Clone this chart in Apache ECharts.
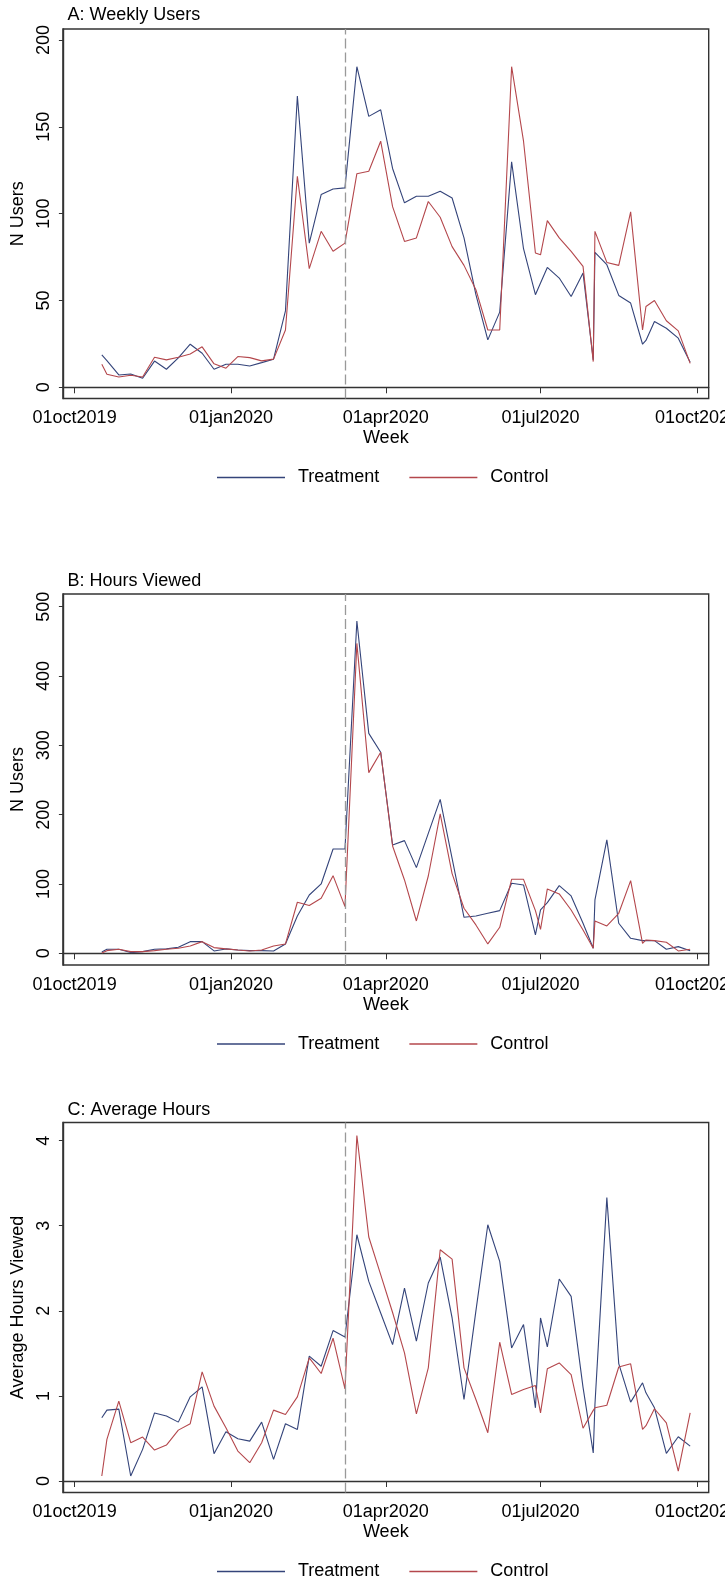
<!DOCTYPE html>
<html>
<head>
<meta charset="utf-8">
<title>Weekly Users / Hours Viewed / Average Hours</title>
<script src="https://cdn.jsdelivr.net/npm/echarts@6/dist/echarts.min.js"></script>
<style>
	html, body { margin: 0; padding: 0; background: #fff; }
	#main { width: 725px; height: 1585px; }
</style>
</head>
<body>
<div id="main"></div>
<script>
// week dates (Sundays, plus a few month-start points)
var weeks = ['2019-10-17', '2019-10-20', '2019-10-27', '2019-11-03', '2019-11-10', '2019-11-17', '2019-11-24',
	'2019-12-01', '2019-12-08', '2019-12-15', '2019-12-22', '2019-12-29', '2020-01-05', '2020-01-12',
	'2020-01-19', '2020-01-26', '2020-02-02', '2020-02-09', '2020-02-16', '2020-02-23', '2020-03-01',
	'2020-03-08', '2020-03-15', '2020-03-22', '2020-03-29', '2020-04-05', '2020-04-12', '2020-04-19',
	'2020-04-26', '2020-05-03', '2020-05-10', '2020-05-17', '2020-05-24', '2020-05-31', '2020-06-07',
	'2020-06-14', '2020-06-21', '2020-06-28', '2020-07-01', '2020-07-05', '2020-07-12', '2020-07-19',
	'2020-07-26', '2020-08-01', '2020-08-02', '2020-08-09', '2020-08-16', '2020-08-23', '2020-08-30',
	'2020-09-01', '2020-09-06', '2020-09-13', '2020-09-20', '2020-09-27'];

// A: weekly users
var usersT = [18.6, 15.4, 7.1, 7.7, 5.2, 15.1, 10.4, 17, 24.8, 19.6, 10.4, 13.3, 13.3, 12.3, 14.2, 16.2, 44,
	167.7, 83, 111, 114.2, 114.8, 184.6, 156, 159.8, 126, 106.2, 110, 110, 112.9, 109, 86, 53.3, 27.3, 43.3,
	129.8, 79.8, 53.3, 60, 69, 62.9, 52.3, 65.8, 15.8, 77.7, 70.6, 52.9, 48.5, 24.8, 27, 37.9, 34, 28.3, 14.4];
var usersC = [13.2, 7.5, 5.9, 6.9, 5.9, 17.3, 15.8, 17.3, 19.2, 23.3, 13.5, 11, 17.7, 17.1, 15.2, 16.2, 33,
	121.5, 68.3, 89.8, 78.3, 83, 123, 124.4, 141.7, 104, 84, 86, 107, 97.9, 81, 70.2, 56.2, 33, 33,
	184.6, 141.7, 77.3, 76.3, 96, 86, 78.3, 69.6, 14.8, 89.8, 71.9, 70.2, 101, 33, 46.5, 50, 38.3, 32.5, 13.8];

// B: hours viewed
var hoursT = [2, 5.8, 5.8, 1, 2.4, 5.8, 6.3, 8.7, 16.8, 16.8, 3.4, 6.3, 4.8, 3.8, 3.8, 3.4, 13.5,
	53.8, 84.1, 100, 150.5, 150.5, 479.3, 317.3, 290, 156.3, 162.5, 123.6, 173, 222, 137, 51.9, 53.8, 57.7, 61.5,
	101, 98.6, 26.4, 62.5, 73, 97.6, 82.7, 43.3, 7.2, 77, 163.5, 43.3, 21.6, 18.3, 18.3, 18.3, 5.8, 9.6, 3.8];
var hoursC = [0.5, 3.8, 5.8, 2.4, 2.4, 3.8, 5.8, 7.2, 10.6, 16.8, 8.2, 6.3, 4.8, 3.4, 4.8, 10.6, 13.5,
	73.6, 68.8, 79.3, 112, 67.3, 447, 260.6, 290, 154.8, 105.8, 46.6, 111.5, 201, 115, 65, 40.9, 13.5, 37.5,
	106.7, 106.7, 61.5, 34.6, 92.8, 85.6, 62.5, 33.7, 7.2, 46.6, 39.4, 57.7, 104.8, 14.4, 19.2, 18.3, 15.9, 3.4, 5.8];

// C: average hours
var avgT = [0.743, 0.833, 0.845, 0.059, 0.372, 0.8, 0.763, 0.692, 0.989, 1.107, 0.321, 0.579, 0.497, 0.469,
	0.692, 0.254, 0.673, 0.606, 1.467, 1.349, 1.768, 1.693, 2.894, 2.346, 1.975, 1.603, 2.268, 1.643, 2.327,
	2.632, 1.916, 0.958, 2.0, 3.011, 2.581, 1.564, 1.838, 0.86, 1.916, 1.576, 2.374, 2.17, 1.1, 0.33, 0.9,
	3.33, 1.38, 0.927, 1.154, 1.036, 0.86, 0.325, 0.52, 0.41];
var avgC = [0.059, 0.489, 0.939, 0.45, 0.516, 0.364, 0.422, 0.598, 0.673, 1.283, 0.88, 0.626, 0.352, 0.215,
	0.45, 0.833, 0.782, 0.989, 1.447, 1.263, 1.678, 1.083, 4.06, 2.867, 2.425, 1.98, 1.506, 0.79, 1.33,
	2.718, 2.608, 1.33, 0.958, 0.567, 1.631, 1.017, 1.075, 1.122, 0.8, 1.318, 1.388, 1.251, 0.62, 0.83, 0.86,
	0.89, 1.34, 1.377, 0.606, 0.65, 0.849, 0.684, 0.117, 0.8];

var xTickDates = ['2019-10-01', '2020-01-01', '2020-04-01', '2020-07-01', '2020-10-01'];
var yTicksA = [0, 50, 100, 150, 200];
var yTicksB = [0, 100, 200, 300, 400, 500];
var yTicksC = [0, 1, 2, 3, 4];
var policyDate = '2020-03-08';

var monthNames = ['jan', 'feb', 'mar', 'apr', 'may', 'jun', 'jul', 'aug', 'sep', 'oct', 'nov', 'dec'];
var DAY = 86400000;

function ts(s) {
	return new Date(s + 'T00:00:00Z').getTime();
}
function fmtDate(v) {
	var d = new Date(v);
	var dd = d.getUTCDate();
	return (dd < 10 ? '0' : '') + dd + monthNames[d.getUTCMonth()] + d.getUTCFullYear();
}
function pairs(vals) {
	return weeks.map(function(w, i) { return [ts(w), vals[i]]; });
}

var font = 'Liberation Sans, Arial, Helvetica, sans-serif';
var blue = '#34447a';
var red = '#b4474c';
var xTicks = xTickDates.map(ts);
var xMin = ts('2019-10-01') - 6.88 * DAY;
var xMax = ts('2019-10-01') + 372.9 * DAY;

var panels = [
	{ title: 'A: Weekly Users', yName: 'N Users', t: usersT, c: usersC, ticks: yTicksA, min: -6.45, max: 206.3, top: 29, height: 369.5, titleUp: 23 },
	{ title: 'B: Hours Viewed', yName: 'N Users', t: hoursT, c: hoursC, ticks: yTicksB, min: -16.9, max: 518.3, top: 594, height: 371, titleUp: 21.5 },
	{ title: 'C: Average Hours', yName: 'Average Hours Viewed', t: avgT, c: avgC, ticks: yTicksC, min: -0.135, max: 4.213, top: 1122.5, height: 370, titleUp: 21 }
];

var option = {
	backgroundColor: '#fff',
	animation: false,
	textStyle: { fontFamily: font },
	title: [], legend: [], grid: [], xAxis: [], yAxis: [], series: []
};

panels.forEach(function(p, i) {
	option.title.push({
		text: p.title, left: 67.5, top: p.top - p.titleUp, padding: 0,
		textStyle: { fontSize: 18, fontWeight: 'normal', color: '#000', fontFamily: font }
	});
	option.legend.push({
		data: ['Treatment', 'Control'],
		left: 217, top: p.top + p.height + 70, padding: 0,
		icon: 'rect', itemWidth: 68, itemHeight: 1.3, itemGap: 30,
		textStyle: { fontSize: 18, color: '#000', fontFamily: font, padding: [0, 0, 0, 8] }
	});
	option.grid.push({
		left: 62.9, right: 16.3, top: p.top, height: p.height,
		outerBoundsMode: 'none', containLabel: false,
		show: true, borderColor: '#333', borderWidth: 1.4, backgroundColor: '#fff'
	});
	option.xAxis.push({
		type: 'value', gridIndex: i, min: xMin, max: xMax,
		name: 'Week', nameLocation: 'middle', nameGap: 31,
		nameTextStyle: { fontSize: 18, color: '#000', fontFamily: font },
		axisLine: { show: true, lineStyle: { color: '#333', width: 1.4 } },
		axisTick: { show: true, customValues: xTicks, length: 6, lineStyle: { color: '#333' } },
		axisLabel: { customValues: xTicks, formatter: fmtDate, fontSize: 18, color: '#000', margin: 11, fontFamily: font },
		splitLine: { show: false }
	});
	option.yAxis.push({
		type: 'value', gridIndex: i, min: p.min, max: p.max,
		name: p.yName, nameLocation: 'middle', nameGap: 28,
		nameTextStyle: { fontSize: 18, color: '#000', fontFamily: font },
		axisLine: { show: true, lineStyle: { color: '#333', width: 1.4 } },
		axisTick: { show: true, customValues: p.ticks, length: 4, lineStyle: { color: '#333' } },
		axisLabel: { customValues: p.ticks, rotate: 90, fontSize: 18, color: '#000', margin: 10, fontFamily: font },
		splitLine: { show: false }
	});
	option.series.push({
		name: 'Treatment', type: 'line', xAxisIndex: i, yAxisIndex: i,
		data: pairs(p.t), symbol: 'none', color: blue,
		lineStyle: { color: blue, width: 1.1 },
		markLine: {
			silent: true, symbol: 'none', label: { show: false },
			lineStyle: { color: '#999', width: 1.3, type: [10, 4] },
			data: [{ xAxis: ts(policyDate) }]
		}
	});
	option.series.push({
		name: 'Control', type: 'line', xAxisIndex: i, yAxisIndex: i,
		data: pairs(p.c), symbol: 'none', color: red,
		lineStyle: { color: red, width: 1.1 }
	});
});

var myChart = echarts.init(document.getElementById('main'));
myChart.setOption(option);
</script>
</body>
</html>
